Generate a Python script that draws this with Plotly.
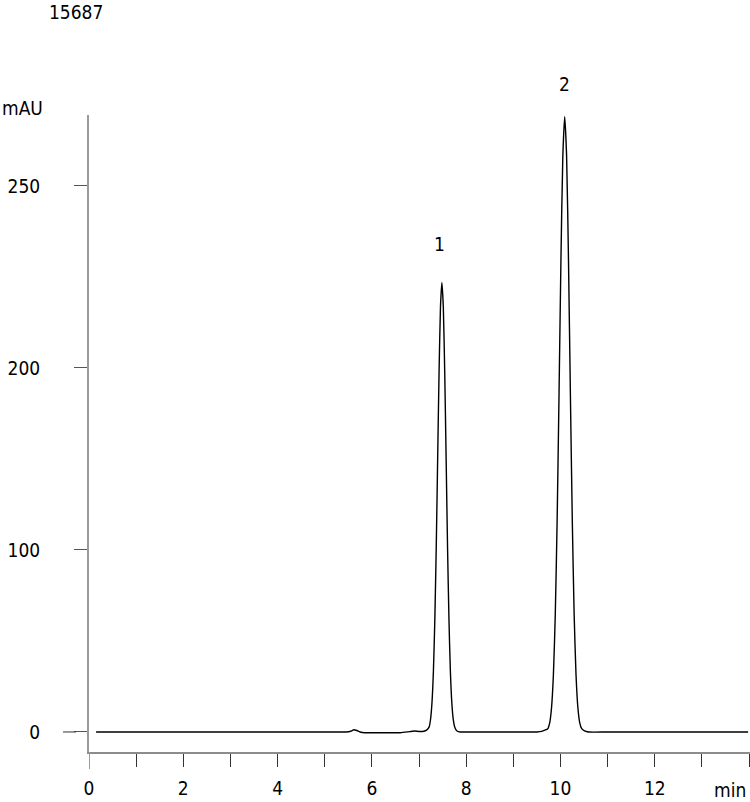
import plotly.graph_objects as go

# Chromatogram signal (time in min, absorbance in axis units)
time_min = [0.15, 1.0, 2.0, 3.0, 4.0, 5.0, 5.45, 5.55, 5.62, 5.68, 5.75, 5.85, 6.2, 6.6, 6.8, 6.9, 7.0,
            7.1, 7.16, 7.215, 7.245, 7.275, 7.305, 7.335, 7.365, 7.395, 7.425, 7.455, 7.485, 7.515,
            7.545, 7.575, 7.605, 7.635, 7.665, 7.695, 7.725, 7.755, 7.785, 7.815, 7.87, 7.95, 8.2,
            9.0, 9.5, 9.6, 9.67, 9.73, 9.77, 9.81, 9.85, 9.89, 9.93, 9.97, 10.01, 10.05, 10.09,
            10.13, 10.17, 10.21, 10.25, 10.29, 10.33, 10.37, 10.41, 10.45, 10.51, 10.6, 11.0,
            12.0, 13.0, 13.98]
signal = [0.0, 0.0, 0.0, 0.0, 0.0, 0.0, 0.0, 0.4, 1.2, 0.8, 0.0, -0.4, -0.4, -0.4, 0.2, 0.5, 0.3,
          0.4, 1.0, 2.8, 7.1, 16.2, 33.4, 61.6, 101.5, 149.8, 197.8, 233.6, 247.0,
          233.6, 197.8, 149.8, 101.5, 61.6, 33.4, 16.2, 7.1, 2.9, 1.2, 0.4, 0.0, 0.0, 0.0,
          0.0, 0.0, 0.3, 1.0, 1.8, 4.9, 13.2, 31.3, 64.7, 117.3, 186.4, 259.5, 316.4, 338.0,
          316.4, 259.5, 186.4, 117.3, 64.7, 31.3, 13.2, 4.9, 1.8, 0.6, 0.0, 0.0,
          0.0, 0.0, 0.0]

y_tick_vals = [0, 100, 200, 300]
y_tick_text = ["0", "100", "200", "250"]
x_tick_vals = [0, 2, 4, 6, 8, 10, 12]
x_tick_text = ["0", "2", "4", "6", "8", "10", "12"]

peak_labels = ["1", "2"]
peak_times = [7.515, 10.09]
peak_heights = [247.0, 338.0]

FONT = "DejaVu Sans Condensed, Liberation Sans, Arial, sans-serif"

fig = go.Figure()
fig.add_trace(go.Scatter(x=time_min, y=signal, mode="lines",
                         line=dict(color="black", width=1.4, shape="spline", smoothing=0.6),
                         hoverinfo="skip", showlegend=False))

fig.update_layout(
    width=750, height=802,
    margin=dict(l=89, r=0, t=115, b=50, autoexpand=False),
    paper_bgcolor="white", plot_bgcolor="white",
    font=dict(family=FONT, size=19, color="black"),
    showlegend=False,
)
fig.update_xaxes(
    range=[0, 14.02], showgrid=False, zeroline=False, automargin=False,
    showline=True, linecolor="#8c8c8c", linewidth=1.5,
    tickmode="array", tickvals=x_tick_vals, ticktext=x_tick_text,
    ticks="outside", ticklen=13, tickcolor="#333333", tickwidth=1,
    minor=dict(dtick=1, ticks="outside", ticklen=13, tickcolor="#333333", tickwidth=1),
    ticklabelstandoff=5,
)
fig.update_yaxes(
    range=[-11, 339], showgrid=False, zeroline=False, automargin=False,
    showline=True, linecolor="#9a9a9a", linewidth=2,
    tickmode="array", tickvals=y_tick_vals, ticktext=y_tick_text,
    ticks="outside", ticklen=13, tickcolor="#555555", tickwidth=1,
    ticklabelstandoff=30,
)

# extension of the y axis below the x axis, and the longer zero tick
fig.add_shape(type="line", xref="x", yref="paper", x0=0, x1=0, y0=0, y1=-17 / 637,
              line=dict(color="#9a9a9a", width=2))
fig.add_shape(type="line", xref="paper", yref="y", x0=-26 / 661, x1=-13 / 661, y0=0, y1=0,
              line=dict(color="#333333", width=1))

for lab, t, h, dy, dx in zip(peak_labels, peak_times, peak_heights, [25, 20], [-4, 0]):
    fig.add_annotation(x=t, y=h, text=lab, showarrow=False, xanchor="center", yanchor="bottom",
                       yshift=dy, xshift=dx, font=dict(size=19))

fig.add_annotation(xref="paper", yref="paper", x=(730 - 89) / 661, y=-(790 - 752) / 637,
                   text="min", showarrow=False, xanchor="center", yanchor="middle", font=dict(size=19))
fig.add_annotation(xref="paper", yref="paper", x=-89 / 661, y=(752 - 108) / 637,
                   text="mAU", showarrow=False, xanchor="left", yanchor="middle", font=dict(size=19))
fig.add_annotation(xref="paper", yref="paper", x=(76 - 89) / 661, y=(752 - 12) / 637,
                   text="15687", showarrow=False, xanchor="center", yanchor="middle", font=dict(size=19))

fig.write_html("out.html")
